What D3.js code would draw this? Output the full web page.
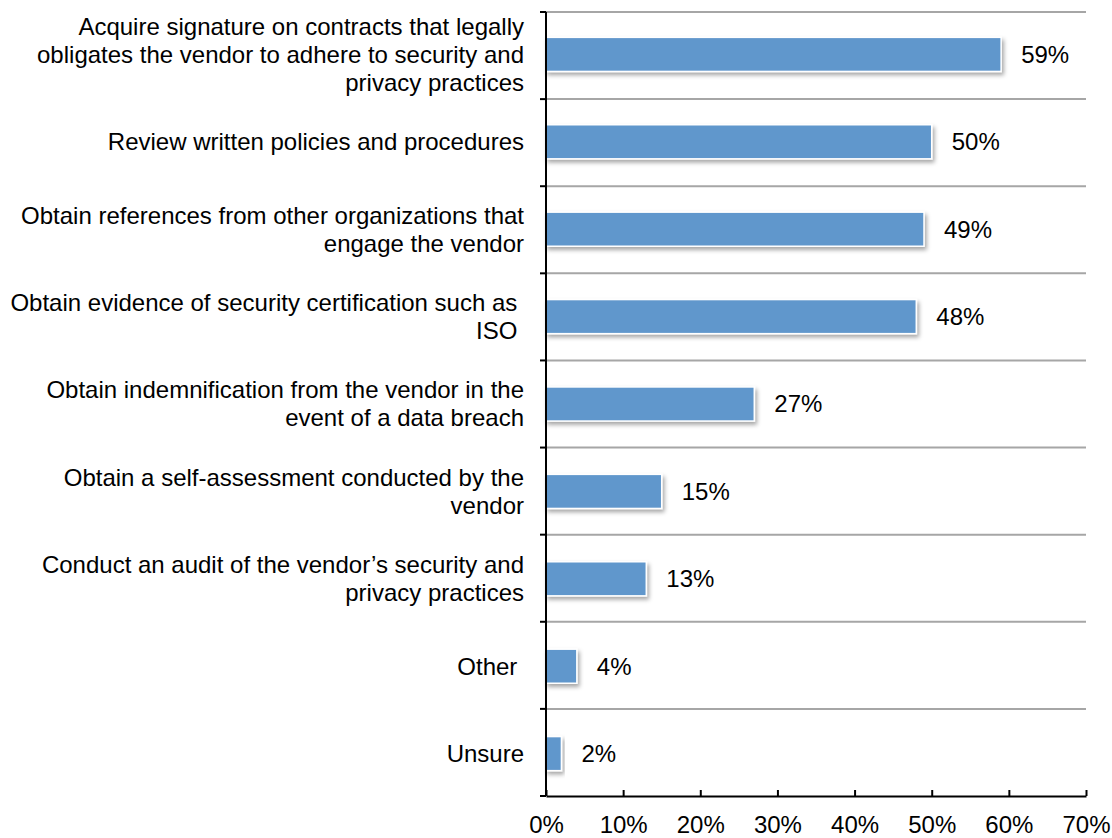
<!DOCTYPE html>
<html>
<head>
<meta charset="utf-8">
<script src="https://cdn.jsdelivr.net/npm/d3@7"></script>
<style>
  body { margin: 0; background: #fff; }
  text { font-family: "Liberation Sans", Arial, sans-serif; fill: #000; }
</style>
</head>
<body>
<svg id="chart" width="1112" height="838"></svg>
<script>
// categories, one array of lines per bar (trailing spaces kept as in the original)
var categories = [
  ["Acquire signature on contracts that legally", "obligates the vendor to adhere to security and", "privacy practices"],
  ["Review written policies and procedures"],
  ["Obtain references from other organizations that", "engage the vendor"],
  ["Obtain evidence of security certification such as ", "ISO "],
  ["Obtain indemnification from the vendor in the", "event of a data breach"],
  ["Obtain a self-assessment conducted by the", "vendor"],
  ["Conduct an audit of the vendor\u2019s security and", "privacy practices"],
  ["Other "],
  ["Unsure"]
];
var values = [59, 50, 49, 48, 27, 15, 13, 4, 2];
var xTicks = [0, 10, 20, 30, 40, 50, 60, 70];

var fontSize = 24;
var margin = { top: 12, left: 546, right: 26, bottom: 42 };
var width = 1112 - margin.left - margin.right;
var height = 838 - margin.top - margin.bottom;

var svg = d3.select("#chart");

var defs = svg.append("defs");
var shadow = defs.append("filter")
  .attr("id", "shadow")
  .attr("x", "-10%").attr("y", "-30%")
  .attr("width", "130%").attr("height", "190%");
shadow.append("feDropShadow")
  .attr("dx", 2).attr("dy", 3)
  .attr("stdDeviation", 2)
  .attr("flood-color", "#000")
  .attr("flood-opacity", 0.35);

var g = svg.append("g")
  .attr("transform", "translate(" + margin.left + "," + margin.top + ")");

var x = d3.scaleLinear().domain([0, 70]).range([0, width]);
var y = d3.scaleBand()
  .domain(d3.range(categories.length))
  .range([0, height])
  .paddingInner(0.61)
  .paddingOuter(0.29);

var rowH = height / categories.length;

// gridlines at band boundaries
g.selectAll("line.grid")
  .data(d3.range(categories.length))
  .enter().append("line")
  .attr("class", "grid")
  .attr("x1", 0)
  .attr("x2", width)
  .attr("y1", function (d) { return d * rowH; })
  .attr("y2", function (d) { return d * rowH; })
  .attr("stroke", "#a6a6a6")
  .attr("stroke-width", 2);

// bars
g.selectAll("rect.bar")
  .data(values)
  .enter().append("rect")
  .attr("class", "bar")
  .attr("x", 0)
  .attr("y", function (d, i) { return y(i); })
  .attr("width", function (d) { return x(d); })
  .attr("height", y.bandwidth())
  .attr("fill", "#6097cc")
  .attr("stroke", "#ffffff")
  .attr("stroke-width", 1.5)
  .attr("filter", "url(#shadow)");

// value labels
g.selectAll("text.val")
  .data(values)
  .enter().append("text")
  .attr("class", "val")
  .attr("x", function (d) { return x(d) + 20; })
  .attr("y", function (d, i) { return y(i) + y.bandwidth() / 2; })
  .attr("dy", "0.35em")
  .attr("font-size", fontSize)
  .text(function (d) { return d + "%"; });

// category labels
var lineH = 28;
g.selectAll("text.cat")
  .data(categories)
  .enter().append("text")
  .attr("class", "cat")
  .attr("text-anchor", "end")
  .attr("font-size", fontSize)
  .attr("xml:space", "preserve")
  .style("white-space", "pre")
  .each(function (lines, i) {
    var cy = y(i) + y.bandwidth() / 2;
    var start = cy - (lines.length - 1) * lineH / 2;
    d3.select(this).selectAll("tspan")
      .data(lines)
      .enter().append("tspan")
      .attr("x", -22)
      .attr("y", function (l, k) { return start + k * lineH; })
      .attr("dy", "0.35em")
      .text(function (l) { return l; });
  });

// y axis line with outward ticks at boundaries
g.append("line")
  .attr("x1", 0).attr("x2", 0)
  .attr("y1", 0).attr("y2", height)
  .attr("stroke", "#000").attr("stroke-width", 2);
g.selectAll("line.ytick")
  .data(d3.range(categories.length + 1))
  .enter().append("line")
  .attr("class", "ytick")
  .attr("x1", -6).attr("x2", 0)
  .attr("y1", function (d) { return d * rowH; })
  .attr("y2", function (d) { return d * rowH; })
  .attr("stroke", "#000").attr("stroke-width", 2);

// x axis
var xAxis = d3.axisBottom(x)
  .tickValues(xTicks)
  .tickFormat(function (d) { return d + "%"; })
  .tickSizeInner(-6)
  .tickSizeOuter(0)
  .tickPadding(20);

var ax = g.append("g")
  .attr("transform", "translate(0," + height + ")")
  .call(xAxis);
ax.select(".domain").attr("stroke", "#000").attr("stroke-width", 2);
ax.selectAll(".tick line").attr("stroke", "#000").attr("stroke-width", 2);
ax.selectAll(".tick text")
  .attr("font-size", fontSize)
  .attr("font-family", "Liberation Sans, Arial, sans-serif")
  .attr("fill", "#000");
</script>
</body>
</html>
